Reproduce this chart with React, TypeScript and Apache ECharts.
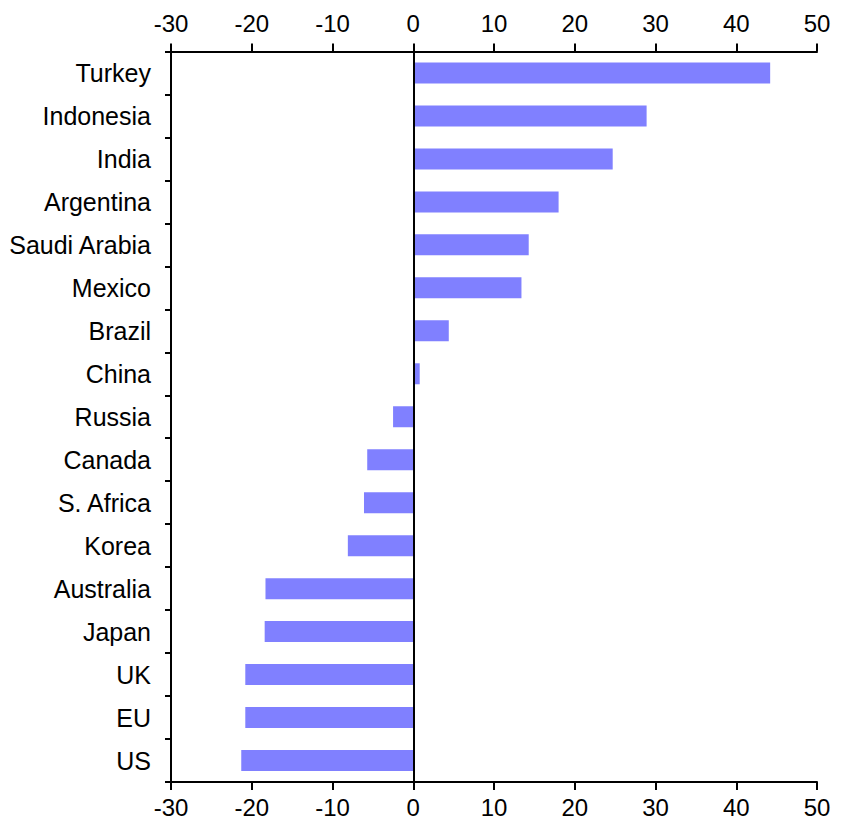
import React, { useEffect, useRef } from "react";
import * as echarts from "echarts";

const categories = [
  "Turkey", "Indonesia", "India", "Argentina", "Saudi Arabia", "Mexico", "Brazil", "China",
  "Russia", "Canada", "S. Africa", "Korea", "Australia", "Japan", "UK", "EU", "US",
];
const values = [
  44.2, 28.9, 24.7, 18.0, 14.3, 13.4, 4.4, 0.8,
  -2.5, -5.7, -6.1, -8.1, -18.3, -18.4, -20.8, -20.8, -21.3,
];
const xMin = -30;
const xMax = 50;
const xStep = 10;

export default function App() {
  const ref = useRef<HTMLDivElement>(null);
  useEffect(() => {
    if (!ref.current) return;
    const chart = echarts.init(ref.current, null, { renderer: "svg" });
    const font = "'Liberation Sans', Arial, sans-serif";
    const valueAxis = (position: "top" | "bottom") => ({
      type: "value",
      position,
      min: xMin,
      max: xMax,
      interval: xStep,
      splitLine: { show: false },
      axisLine: { show: true, onZero: false, lineStyle: { color: "#000", width: 2 } },
      axisTick: { show: true, inside: false, length: 8, lineStyle: { color: "#000", width: 2 } },
      axisLabel: {
        color: "#000",
        fontFamily: font,
        fontSize: 24,
        margin: position === "top" ? 16 : 13,
      },
    });
    chart.setOption({
      animation: false,
      grid: { left: 171, right: 30, top: 51.5, bottom: 46, containLabel: false },
      xAxis: [valueAxis("top"), valueAxis("bottom")],
      yAxis: {
        type: "category",
        data: categories,
        inverse: true,
        axisLine: { show: true, onZero: false, lineStyle: { color: "#000", width: 2 } },
        axisTick: { show: true, length: 6, lineStyle: { color: "#000", width: 2 } },
        axisLabel: { color: "#000", fontFamily: font, fontSize: 25, margin: 20 },
        splitLine: { show: false },
      },
      series: [
        {
          type: "bar",
          xAxisIndex: 0,
          data: values,
          barWidth: 21,
          itemStyle: { color: "#8080FF" },
          markLine: {
            silent: true,
            symbol: "none",
            label: { show: false },
            lineStyle: { color: "#000", width: 2, type: "solid" },
            data: [{ xAxis: 0 }],
          },
        },
      ],
    });
    return () => chart.dispose();
  }, []);
  return (
    <div
      ref={ref}
      style={{ position: "fixed", left: 0, top: 0, width: 847, height: 828, background: "#fff" }}
    />
  );
}
